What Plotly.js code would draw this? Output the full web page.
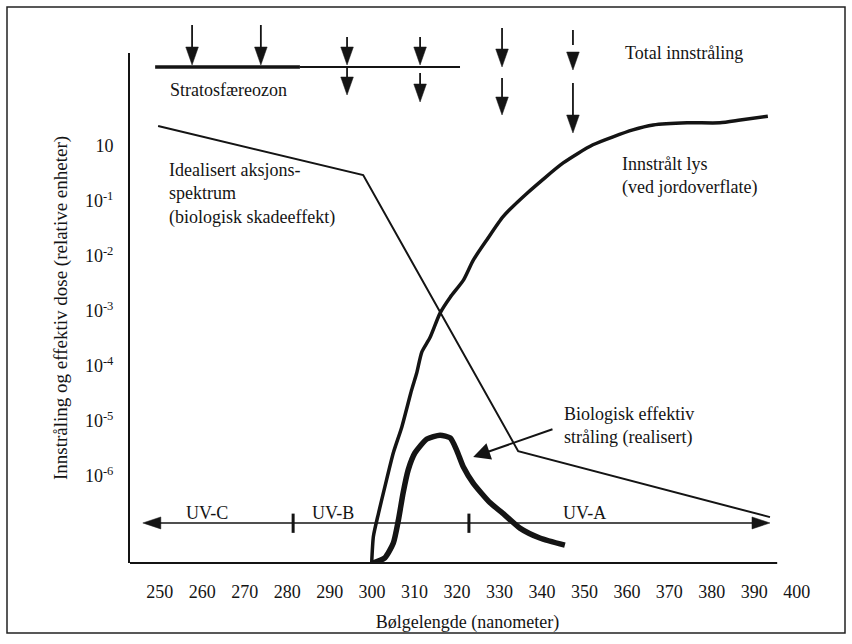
<!DOCTYPE html>
<html><head><meta charset="utf-8">
<script src="https://cdn.plot.ly/plotly-3.0.1.min.js"></script>
<style>html,body{margin:0;padding:0;background:#fff}</style>
</head><body><div id="chart" style="width:852px;height:644px"></div>
<script>
// ---- data (wavelength in nm, level as log10 of relative units) ----
const spectrumX = [249.6, 297.9, 334.4, 393.7];
const spectrumY = [0.36, -0.53, -5.55, -6.75];
const sunX = [299.9, 300.3, 301.5, 303.0, 305.0, 307.0, 309.3, 310.5, 311.7, 313.6, 316.0, 318.4, 321.5, 323.8, 327.0, 330.8, 336.5, 345.0, 352.0, 361.4, 366.2, 374.2, 381.9, 386.7, 393.2];
const sunY = [-7.58, -7.10, -6.68, -6.20, -5.58, -5.11, -4.44, -4.13, -3.75, -3.49, -3.04, -2.75, -2.44, -2.08, -1.71, -1.29, -0.86, -0.31, 0.02, 0.29, 0.38, 0.42, 0.42, 0.47, 0.54];
const bioX = [300.3, 303.0, 305.0, 306.2, 307.3, 308.5, 310.1, 312.9, 316.0, 318.4, 319.9, 321.5, 323.8, 327.8, 330.8, 334.8, 339.5, 345.4];
const bioY = [-7.58, -7.49, -7.22, -6.80, -6.31, -5.89, -5.58, -5.33, -5.26, -5.31, -5.53, -5.84, -6.13, -6.49, -6.68, -6.95, -7.13, -7.26];
const xTicks = [250, 260, 270, 280, 290, 300, 310, 320, 330, 340, 350, 360, 370, 380, 390, 400];
const yTickVals = [0, -1, -2, -3, -4, -5, -6];
const yTickText = ['10', '10<sup>-1</sup>', '10<sup>-2</sup>', '10<sup>-3</sup>', '10<sup>-4</sup>', '10<sup>-5</sup>', '10<sup>-6</sup>'];
const uvBands = ['UV-C', 'UV-B', 'UV-A'];
const uvBandCenters = [261.1, 290.8, 350.1];
const uvBoundaries = [281.4, 322.8];
const uvSpan = [246.0, 393.7];
const totalArrowX = [257.6, 273.8, 294.1, 311.3, 330.6, 347.3];
const passArrowX = [294.1, 311.3, 330.6, 347.3];

// ---- styling / layout helpers ----
const INK = '#141414';
const FONT = 'Liberation Serif, Times New Roman, DejaVu Serif, serif';
const PT = 53, PB = 563;                 // plot area top / bottom in px
const pp = py => (PB - py) / (PB - PT); // pixel row -> paper y

function head(x, xref, y, yref, dir, len, half) {
  let path;
  if (dir === 'down') path = `M0,0 L${-half},${len} L${half},${len} Z`;
  else if (dir === 'left') path = `M0,0 L${len},${half} L${len},${-half} Z`;
  else path = `M0,0 L${-len},${half} L${-len},${-half} Z`;
  return {type: 'path', xref: xref, yref: yref, xsizemode: 'pixel', ysizemode: 'pixel',
          xanchor: x, yanchor: y, path: path, fillcolor: INK, line: {color: INK, width: 0.5}};
}
function seg(x0, y0, x1, y1, xref, yref, w) {
  return {type: 'line', xref: xref, yref: yref, x0: x0, y0: y0, x1: x1, y1: y1, line: {color: INK, width: w}};
}

const shapes = [];
// outer frame
shapes.push({type: 'rect', xref: 'paper', yref: 'paper',
  x0: (7 - 130) / 675, x1: (845 - 130) / 675, y0: pp(633), y1: pp(7),
  line: {color: '#222', width: 1.5}});
// x axis line
shapes.push(seg(242.98, 0, 395.4, 0, 'x', 'paper', 2.2));
// stratosphere ozone layer
shapes.push(seg(248.9, pp(67), 283.0, pp(67), 'x', 'paper', 3.5));
shapes.push(seg(283.0, pp(67), 320.7, pp(67), 'x', 'paper', 2));
// total irradiation arrows (above the layer)
const totTop = [25, 25, 37, 37, 28, 30];
const totTip = [65, 65, 65, 65, 67, 70];
totalArrowX.forEach((x, i) => {
  const end = (i === 5) ? 45 : totTip[i] - 10;
  shapes.push(seg(x, pp(totTop[i]), x, pp(end), 'x', 'paper', 1.8));
  shapes.push(head(x, 'x', pp(totTip[i]), 'paper', 'down', 18, 6.3));
});
// transmitted arrows (below the layer)
const passTop = [67, 73, 78, 83];
const passTip = [95, 102, 115, 133];
passArrowX.forEach((x, i) => {
  shapes.push(seg(x, pp(passTop[i]), x, pp(passTip[i] - 10), 'x', 'paper', 1.8));
  shapes.push(head(x, 'x', pp(passTip[i]), 'paper', 'down', 18, 6.3));
});
// UV band arrow
const uvY = -6.856;
shapes.push(seg(uvSpan[0] + 2, uvY, uvSpan[1] - 2, uvY, 'x', 'y', 1.6));
shapes.push(head(uvSpan[0], 'x', uvY, 'y', 'left', 18, 6));
shapes.push(head(uvSpan[1], 'x', uvY, 'y', 'right', 18, 6));
uvBoundaries.forEach(b => shapes.push(seg(b, uvY + 0.17, b, uvY - 0.18, 'x', 'y', 3)));

function txt(text, x, y, xref, yref, xanchor) {
  return {text: text, x: x, y: y, xref: xref || 'x', yref: yref || 'y', xanchor: xanchor || 'left',
          yanchor: 'middle', align: 'left', showarrow: false, font: {family: FONT, size: 18, color: INK}};
}
const annotations = [
  txt('Total innstråling', 359.1, pp(53), 'x', 'paper'),
  txt('Stratosfæreozon', 251.9, pp(90), 'x', 'paper'),
  txt('Idealisert aksjons-<br>spektrum<br>(biologisk skadeeffekt)', 251.7, -0.866),
  txt('Innstrålt lys<br>(ved jordoverflate)', 358.4, -0.556),
  {text: 'Biologisk effektiv<br>stråling (realisert)', align: 'left',
   x: 323.8, y: -5.656, xref: 'x', yref: 'y', ax: 344.7, ay: -5.093, axref: 'x', ayref: 'y',
   xanchor: 'left', yanchor: 'middle', showarrow: true, arrowhead: 2, arrowsize: 1.7, arrowwidth: 2,
   arrowcolor: INK, standoff: 0, startstandoff: 10, font: {family: FONT, size: 18, color: INK}}
];
uvBands.forEach((b, i) => annotations.push(txt(b, uvBandCenters[i], uvY + 0.19, 'x', 'y', 'center')));

const traces = [
  {x: spectrumX, y: spectrumY, mode: 'lines', line: {color: INK, width: 2}, name: 'Idealisert aksjonsspektrum'},
  {x: sunX, y: sunY, mode: 'lines', line: {color: INK, width: 3.5, shape: 'spline', smoothing: 0.6}, name: 'Innstrålt lys'},
  {x: bioX, y: bioY, mode: 'lines', line: {color: INK, width: 5.5, shape: 'spline', smoothing: 0.6}, name: 'Biologisk effektiv stråling'}
];

const layout = {
  width: 852, height: 644,
  margin: {l: 130, r: 47, t: PT, b: 644 - PB, pad: 0},
  paper_bgcolor: '#fff', plot_bgcolor: '#fff',
  showlegend: false,
  font: {family: FONT, size: 18, color: INK},
  xaxis: {range: [242.98, 401.95], tickvals: xTicks, showgrid: false, zeroline: false, showline: false,
          ticks: 'outside', ticklen: 12, tickcolor: 'rgba(0,0,0,0)', tickfont: {family: FONT, size: 18, color: INK},
          title: {text: 'Bølgelengde (nanometer)', font: {family: FONT, size: 18, color: INK}, standoff: 14}},
  yaxis: {range: [-7.584, 1.689], tickvals: yTickVals, ticktext: yTickText, showgrid: false, zeroline: false,
          showline: true, linecolor: INK, linewidth: 2, ticks: 'outside', ticklen: 11, tickcolor: 'rgba(0,0,0,0)',
          tickfont: {family: FONT, size: 18, color: INK},
          title: {text: 'Innstråling og effektiv dose (relative enheter)', font: {family: FONT, size: 19, color: INK}, standoff: 12}},
  shapes: shapes,
  annotations: annotations
};
Plotly.newPlot('chart', traces, layout, {displayModeBar: false, staticPlot: true});
</script></body></html>
